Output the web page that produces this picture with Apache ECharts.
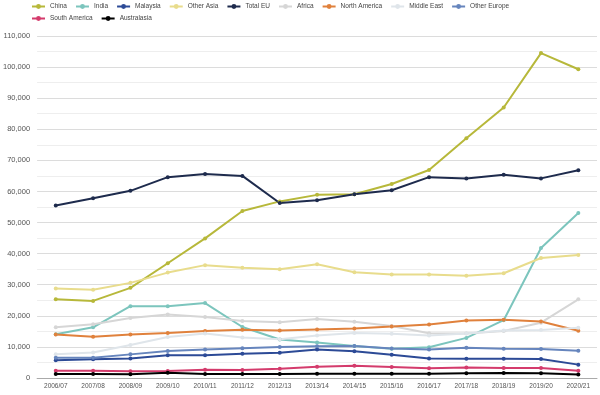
<!DOCTYPE html>
<html>
<head>
<meta charset="utf-8">
<script src="https://cdn.jsdelivr.net/npm/echarts@6/dist/echarts.min.js"></script>
<style>html,body{margin:0;padding:0;background:#fff}#c{width:600px;height:395px}</style>
</head>
<body>
<div id="c"></div>
<script>
const categories = ['2006/07','2007/08','2008/09','2009/10','2010/11','2011/12','2012/13','2013/14','2014/15','2015/16','2016/17','2017/18','2018/19','2019/20','2020/21'];
const china = [25300,24800,29000,36900,44900,53700,56800,58900,59100,62400,66900,77100,87000,104500,99300];
const india = [14100,16300,23100,23100,24100,16400,12400,11400,10300,9400,9900,12900,18600,41800,53100];
const malaysia = [5700,6000,6300,7300,7300,7800,8100,9200,8600,7500,6300,6200,6200,6100,4300];
const otherAsia = [28800,28400,30600,33900,36300,35500,35000,36600,34000,33300,33300,32900,33700,38600,39600];
const totalEU = [55500,57800,60200,64600,65600,65000,56300,57200,59100,60400,64600,64200,65400,64200,66800];
const africa = [16300,17300,19300,20400,19600,18300,17900,19000,18100,16700,14400,14300,15100,17800,25300];
const northAmerica = [14000,13300,14000,14500,15100,15500,15300,15600,15900,16600,17200,18500,18700,18200,15200];
const middleEast = [7600,8200,10600,13200,14300,13000,12500,13700,14500,14200,13700,14300,15300,15400,16200];
const otherEurope = [6500,6500,7600,8700,9200,9600,10000,10200,10300,9500,9200,9700,9400,9300,8800];
const southAmerica = [2350,2350,2150,2250,2650,2550,3000,3650,3950,3550,3100,3400,3200,3200,2350];
const australasia = [1300,1300,1200,1700,1300,1300,1300,1400,1400,1400,1400,1500,1600,1500,1100];

const seriesDefs = [
  ['China', china, '#b7b83a'],
  ['India', india, '#7cc5bd'],
  ['Malaysia', malaysia, '#2c4a96'],
  ['Other Asia', otherAsia, '#e8dc8c'],
  ['Total EU', totalEU, '#1e2b4d'],
  ['Africa', africa, '#d6d6d6'],
  ['North America', northAmerica, '#e0813c'],
  ['Middle East', middleEast, '#dfe5ea'],
  ['Other Europe', otherEurope, '#6685bd'],
  ['South America', southAmerica, '#d43b6c'],
  ['Australasia', australasia, '#000000']
];

const chart = echarts.init(document.getElementById('c'));
const legendBase = {
  left: 31, itemWidth: 13, itemHeight: 6, itemGap: 8,
  textStyle: {fontSize: 6.5, color: '#444', fontFamily: 'Liberation Sans, Arial'},
  padding: 0
};
chart.setOption({
  animation: false,
  legend: [
    Object.assign({}, legendBase, {top: 3, data: seriesDefs.slice(0,9).map(s=>s[0])}),
    Object.assign({}, legendBase, {top: 15, data: seriesDefs.slice(9).map(s=>s[0])})
  ],
  grid: {left: 36, right: 3, top: 36, bottom: 17, containLabel: false},
  xAxis: {
    type: 'category', data: categories, boundaryGap: true,
    axisLine: {lineStyle: {color: '#aaa'}},
    axisTick: {show: false},
    axisLabel: {fontSize: 6.5, color: '#555', margin: 5, interval: 0, fontFamily: 'Liberation Sans, Arial'},
    splitLine: {show: false}
  },
  yAxis: {
    type: 'value', min: 0, max: 110000, interval: 10000,
    axisLine: {show: false}, axisTick: {show: false},
    axisLabel: {fontSize: 7.5, color: '#555', margin: 7, fontFamily: 'Liberation Sans, Arial',
      formatter: v => v.toLocaleString('en-US')},
    splitLine: {lineStyle: {color: '#dcdcdc'}},
    minorTick: {show: false, splitNumber: 2},
    minorSplitLine: {show: true, lineStyle: {color: '#eeeeee'}}
  },
  series: seriesDefs.map(([name, data, color]) => ({
    name, type: 'line', data, color,
    symbol: 'circle', symbolSize: 4,
    lineStyle: {width: 2, color},
    itemStyle: {color}
  }))
});
</script>
</body>
</html>
